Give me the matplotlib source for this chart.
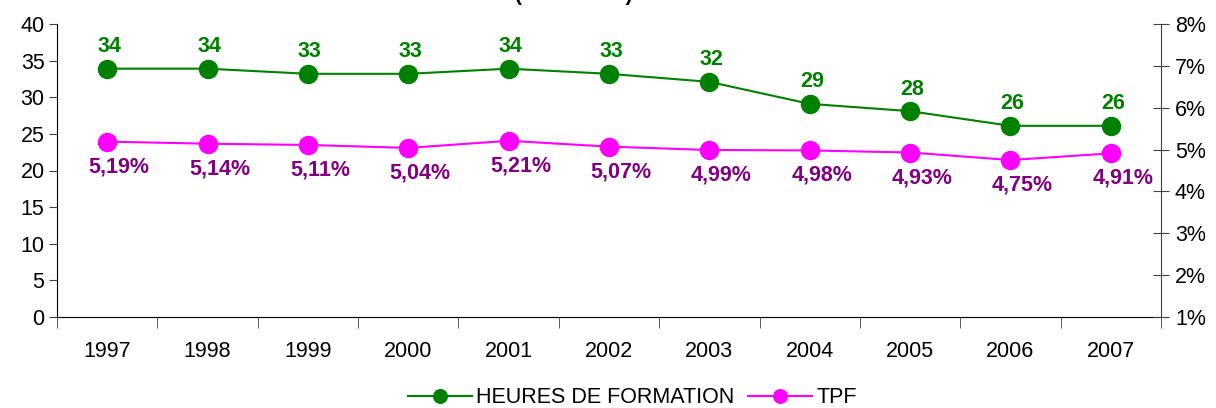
import matplotlib
matplotlib.use('Agg')
import matplotlib.pyplot as plt
from matplotlib.ticker import FuncFormatter, FixedLocator

plt.rcParams['font.family'] = ['Liberation Sans', 'DejaVu Sans']

# Donnees
annees = ['1997', '1998', '1999', '2000', '2001', '2002', '2003', '2004', '2005', '2006', '2007']
heures = [33.9, 33.9, 33.2, 33.2, 33.9, 33.2, 32.1, 29.1, 28.1, 26.1, 26.1]
heures_lbl = ['34', '34', '33', '33', '34', '33', '32', '29', '28', '26', '26']
tpf = [5.19, 5.14, 5.11, 5.04, 5.21, 5.07, 4.99, 4.98, 4.93, 4.75, 4.91]

vert = '#008000'
magenta = '#FF00FF'
violet = '#800080'
fs = 15.5

fig = plt.figure(figsize=(12.16, 4.08), dpi=100)
ax = fig.add_axes([57 / 1216, 1 - 317 / 408, (1161 - 57) / 1216, (317 - 24) / 408])
ax2 = ax.twinx()

x = list(range(len(annees)))

l1, = ax.plot(x, heures, color=vert, marker='o', markersize=13, linewidth=1.5,
              label='HEURES DE FORMATION', zorder=3)
l2, = ax2.plot(x, tpf, color=magenta, marker='o', markersize=13, linewidth=1.5,
               label='TPF', zorder=3)

for i, v in enumerate(heures):
    ax.annotate(heures_lbl[i], (i, v), xytext=(2, 22), textcoords='offset pixels',
                ha='center', va='center', color=vert, fontsize=fs, fontweight='bold')

for i, v in enumerate(tpf):
    txt = f"{v:.2f}".replace('.', ',') + '%'
    ax2.annotate(txt, (i, v), xytext=(12, -25), textcoords='offset pixels',
                 ha='center', va='center', color=violet, fontsize=fs, fontweight='bold')

# Axe gauche
ax.set_xlim(-0.5, len(annees) - 0.5)
ax.set_ylim(0, 40)
ax.set_yticks(range(0, 41, 5))
ax.set_xticks(x)
ax.set_xticklabels(annees, fontsize=fs)
ax.tick_params(axis='x', length=0, pad=17)
ax.xaxis.set_minor_locator(FixedLocator([i - 0.5 for i in range(len(annees) + 1)]))
ax.tick_params(axis='x', which='minor', length=8, direction='out', color='#404040')
ax.tick_params(axis='y', labelsize=fs, length=6, direction='out', color='#404040', pad=3)
ax.spines['top'].set_visible(False)
ax.spines['right'].set_visible(False)

# Axe droit
ax2.set_ylim(1, 8)
ax2.set_yticks(range(1, 9))
ax2.yaxis.set_major_formatter(FuncFormatter(lambda v, p: f"{int(v)}%"))
ax2.tick_params(axis='y', labelsize=fs, length=12, direction='inout', color='#404040', pad=4)
ax2.spines['top'].set_visible(False)
ax2.spines['left'].set_visible(False)
ax2.spines['bottom'].set_visible(False)
ax2.spines['right'].set_color('#404040')

fig.legend([l1, l2], ['HEURES DE FORMATION', 'TPF'], loc='center', bbox_to_anchor=(0.52, 0.025),
           ncol=2, frameon=False, fontsize=fs, handlelength=3.0, handletextpad=0.2,
           columnspacing=0.6, markerscale=0.75, borderaxespad=0)

# titre coupe en haut
fig.text(0.472, 1.012, '(                  )', ha='center', va='center', fontsize=15, fontweight='bold')

fig.savefig('out.png', dpi=100)
